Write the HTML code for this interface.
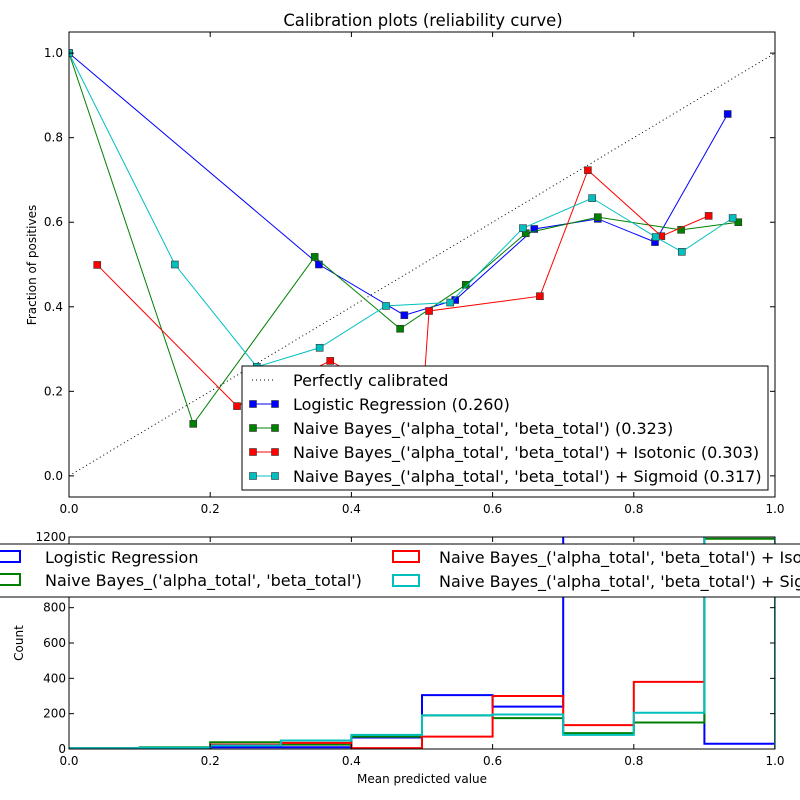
<!DOCTYPE html>
<html><head><meta charset="utf-8"><style>
body{margin:0;background:#fff;}
svg{display:block;font-family:"DejaVu Sans","Liberation Sans",sans-serif;}
</style></head><body>
<svg id="chart" width="800" height="800" viewBox="0 0 800 800">
<defs>
<clipPath id="clipTop"><rect x="69" y="32" width="706" height="465"/></clipPath>
<clipPath id="clipBot"><rect x="69" y="537" width="706" height="212"/></clipPath>
</defs>
<rect x="0" y="0" width="800" height="800" fill="#fff"/>
<text x="423" y="26" font-size="16.4" text-anchor="middle">Calibration plots  (reliability curve)</text>
<g id="topg"></g>
<g id="botg"></g>
</svg>
<script>
const NS='http://www.w3.org/2000/svg';
// ---- data: calibration curves ----
const lrX=[0.0,0.354,0.475,0.547,0.659,0.749,0.83,0.933];
const lrY=[1.0,0.50,0.38,0.416,0.584,0.608,0.553,0.856];
const nbX=[0.0,0.176,0.348,0.469,0.562,0.647,0.749,0.867,0.948];
const nbY=[1.0,0.123,0.518,0.348,0.452,0.574,0.612,0.582,0.600];
const isoX=[0.04,0.238,0.37,0.50,0.51,0.667,0.735,0.839,0.906];
const isoY=[0.499,0.165,0.272,0.15,0.39,0.425,0.723,0.567,0.615];
const sigX=[0.0,0.15,0.266,0.355,0.449,0.54,0.643,0.741,0.831,0.868,0.94];
const sigY=[1.0,0.5,0.258,0.303,0.402,0.41,0.586,0.657,0.565,0.53,0.61];
// ---- data: histograms (bins of 0.1) ----
const binEdges=[0,0.1,0.2,0.3,0.4,0.5,0.6,0.7,0.8,0.9,1.0];
const lrCounts=[3,3,10,10,65,305,240,1300,1250,30];
const nbCounts=[5,10,38,25,70,190,175,90,150,1190];
const isoCounts=[5,5,25,35,5,70,300,135,380,1300];
const sigCounts=[5,8,20,48,80,190,195,80,205,1300];
const xTicks=[0,0.2,0.4,0.6,0.8,1.0];
const yTicksTop=[0,0.2,0.4,0.6,0.8,1.0];
const yTicksBot=[0,200,400,600,800,1000,1200];

const L=69,R=775,T1=32,B1=497,T2=537,B2=749;
const sx=v=>L+(R-L)*v;
const sy=v=>B1-(B1-T1)*(v+0.05)/1.1;
const sc=v=>B2-(B2-T2)*v/1200;
function el(tag,attrs,parent){const e=document.createElementNS(NS,tag);for(const k in attrs)e.setAttribute(k,attrs[k]);parent.appendChild(e);return e;}
const topG=document.getElementById('topg'),botG=document.getElementById('botg');

const d1=el('line',{x1:sx(0),y1:sy(0),x2:sx(1),y2:sy(1),stroke:'#000','stroke-dasharray':'1,3','stroke-width':1,'clip-path':'url(#clipTop)'},topG);


function series(xs,ys,color,name){
  const g=el('g',{'clip-path':'url(#clipTop)'},topG);
  
  
  el('polyline',{points:xs.map((x,i)=>sx(x)+','+sy(ys[i])).join(' '),fill:'none',stroke:color,'stroke-width':1},g);
  xs.forEach((x,i)=>{const m=el('rect',{x:sx(x)-3.5,y:sy(ys[i])-3.5,width:7,height:7,fill:color,stroke:'#333','stroke-width':0.6},g);
    
    });
}
series(lrX,lrY,'#0000ff','logistic-curve');
series(nbX,nbY,'#008000','naive-bayes-curve');
series(isoX,isoY,'#ff0000','isotonic-curve');
series(sigX,sigY,'#00bfbf','sigmoid-curve');
const f1=el('rect',{x:L,y:T1,width:R-L,height:B1-T1,fill:'none',stroke:'#000','stroke-width':1},topG);


xTicks.forEach(v=>{
  el('line',{x1:sx(v),y1:B1,x2:sx(v),y2:B1-5,stroke:'#000'},topG);
  el('line',{x1:sx(v),y1:T1,x2:sx(v),y2:T1+5,stroke:'#000'},topG);
  const t=el('text',{x:sx(v),y:B1+16,'font-size':12,'text-anchor':'middle'},topG);t.textContent=v.toFixed(1);
  
  
});
yTicksTop.forEach(v=>{
  el('line',{x1:L,y1:sy(v),x2:L+5,y2:sy(v),stroke:'#000'},topG);
  el('line',{x1:R,y1:sy(v),x2:R-5,y2:sy(v),stroke:'#000'},topG);
  const t=el('text',{x:L-6,y:sy(v)+4,'font-size':12,'text-anchor':'end'},topG);t.textContent=v.toFixed(1);
  
  
});
const yl=el('text',{x:36,y:265,'font-size':12,'text-anchor':'middle',transform:'rotate(-90 36 265)'},topG);yl.textContent='Fraction of positives';


const lg=el('g',{},topG);


el('rect',{x:242,y:366,width:526,height:124,fill:'#fff',stroke:'#000','stroke-width':1},lg);
const items=[['Perfectly calibrated',null],['Logistic Regression (0.260)','#0000ff'],["Naive Bayes_('alpha_total', 'beta_total') (0.323)",'#008000'],["Naive Bayes_('alpha_total', 'beta_total') + Isotonic (0.303)",'#ff0000'],["Naive Bayes_('alpha_total', 'beta_total') + Sigmoid (0.317)",'#00bfbf']];
items.forEach((it,i)=>{const y=380+i*24;
  const g=el('g',{},lg);
  
  
  if(!it[1]){el('line',{x1:252,y1:y,x2:275,y2:y,stroke:'#000','stroke-dasharray':'1,3'},g);}
  else{el('line',{x1:252,y1:y,x2:275,y2:y,stroke:it[1]},g);
    el('rect',{x:249.5,y:y-3.5,width:7,height:7,fill:it[1],stroke:'#333','stroke-width':0.6},g);
    el('rect',{x:271.5,y:y-3.5,width:7,height:7,fill:it[1],stroke:'#333','stroke-width':0.6},g);}
  const t=el('text',{x:293,y:y+6,'font-size':16},g);t.textContent=it[0];
});

function hist(counts,color,name){
  let d='M'+sx(binEdges[0])+','+sc(0);
  counts.forEach((c,i)=>{d+=' L'+sx(binEdges[i])+','+sc(c)+' L'+sx(binEdges[i+1])+','+sc(c);});
  d+=' L'+sx(binEdges[binEdges.length-1])+','+sc(0);
  const p=el('path',{d:d,fill:'none',stroke:color,'stroke-width':2,'clip-path':'url(#clipBot)'},botG);
  
  
}
hist(lrCounts,'#0000ff','logistic-histogram');
hist(nbCounts,'#008000','naive-bayes-histogram');
hist(isoCounts,'#ff0000','isotonic-histogram');
hist(sigCounts,'#00bfbf','sigmoid-histogram');
const f2=el('rect',{x:L,y:T2,width:R-L,height:B2-T2,fill:'none',stroke:'#000','stroke-width':1},botG);


xTicks.forEach(v=>{
  el('line',{x1:sx(v),y1:B2,x2:sx(v),y2:B2-5,stroke:'#000'},botG);
  el('line',{x1:sx(v),y1:T2,x2:sx(v),y2:T2+5,stroke:'#000'},botG);
  const t=el('text',{x:sx(v),y:B2+16,'font-size':12,'text-anchor':'middle'},botG);t.textContent=v.toFixed(1);
  
  
});
yTicksBot.forEach(v=>{
  el('line',{x1:L,y1:sc(v),x2:L+5,y2:sc(v),stroke:'#000'},botG);
  el('line',{x1:R,y1:sc(v),x2:R-5,y2:sc(v),stroke:'#000'},botG);
  const t=el('text',{x:L-3,y:sc(v)+4,'font-size':12,'text-anchor':'end'},botG);t.textContent=String(v);
  
  
});
const xl=el('text',{x:422,y:783,'font-size':12,'text-anchor':'middle'},botG);xl.textContent='Mean predicted value';


const cl=el('text',{x:23,y:643,'font-size':12,'text-anchor':'middle',transform:'rotate(-90 23 643)'},botG);cl.textContent='Count';


const bl=el('g',{},botG);


el('rect',{x:-5,y:544,width:820,height:53,fill:'#fff',stroke:'#000','stroke-width':1},bl);
const bitems=[['Logistic Regression','#0000ff',0,557],["Naive Bayes_('alpha_total', 'beta_total')",'#008000',0,580],["Naive Bayes_('alpha_total', 'beta_total') + Isotonic",'#ff0000',394,557],["Naive Bayes_('alpha_total', 'beta_total') + Sigmoid",'#00bfbf',394,581]];
bitems.forEach(it=>{
  const g=el('g',{},bl);
  
  
  el('rect',{x:it[2]-1,y:it[3]-6,width:it[2]?26:21,height:11,fill:'none',stroke:it[1],'stroke-width':2},g);
  const t=el('text',{x:it[2]+45,y:it[3]+6,'font-size':16},g);t.textContent=it[0];
});
</script>
</body></html>
